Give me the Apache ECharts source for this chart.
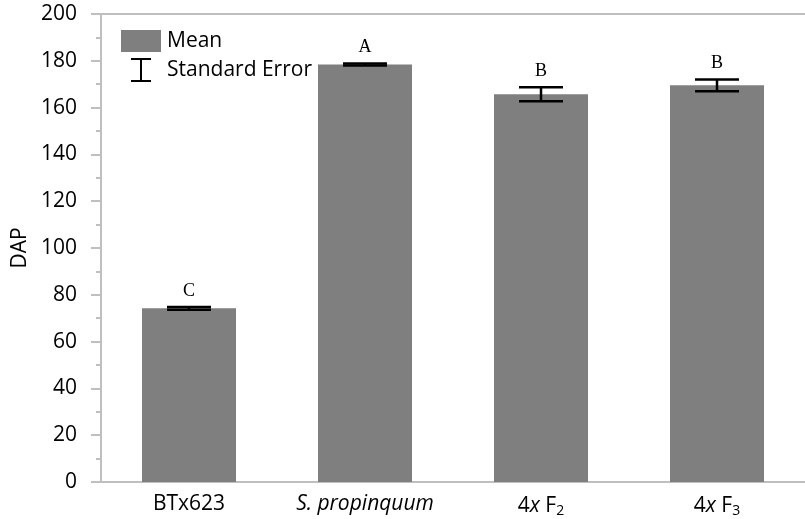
<!DOCTYPE html>
<html>
<head>
<meta charset="utf-8">
<script src="https://cdn.jsdelivr.net/npm/echarts@6/dist/echarts.min.js"></script>
<style>
  html, body { margin: 0; padding: 0; background: #fff; }
  #chart { width: 805px; height: 519px; }
</style>
</head>
<body>
<div id="chart"></div>
<script>
// Days after planting per genotype, with standard errors and significance groups
const categories = ['BTx623', 'S. propinquum', '4x F2', '4x F3'];
const meanDAP = [74.2, 178.4, 165.7, 169.5];
const stdError = [0.6, 0.4, 3.0, 2.5];
const groupLetters = ['C', 'A', 'B', 'B'];
const yTicks = [0, 20, 40, 60, 80, 100, 120, 140, 160, 180, 200];

const axisGrey = '#bfbfbf';
const barGrey = '#7f7f7f';
const sansFont = '"Open Sans", "Noto Sans", sans-serif';
const serifFont = '"Liberation Serif", "DejaVu Serif", serif';
const textSize = 21;

const chart = echarts.init(document.getElementById('chart'), null, { renderer: 'canvas' });

function categoryLabel(value) {
  if (value === 'S. propinquum') return '{it|S. propinquum}';
  if (value === '4x F2') return '{n|4}{it|x}{n| F}{sub|2}';
  if (value === '4x F3') return '{n|4}{it|x}{n| F}{sub|3}';
  return '{n|' + value + '}';
}

const errorData = meanDAP.map((m, i) => [i, m - stdError[i], m + stdError[i], groupLetters[i]]);

chart.setOption({
  animation: false,
  grid: { left: 101, right: 0, top: 14, bottom: 37, containLabel: false },
  xAxis: [{
    type: 'category',
    data: categories,
    axisLine: { lineStyle: { color: axisGrey, width: 2 } },
    axisTick: { show: false },
    axisLabel: {
      margin: 12,
      formatter: categoryLabel,
      rich: {
        n: { fontFamily: sansFont, fontSize: textSize, color: '#000' },
        it: { fontFamily: sansFont, fontSize: textSize, fontStyle: 'italic', color: '#000' },
        sub: { fontFamily: sansFont, fontSize: 14, color: '#000', verticalAlign: 'bottom', padding: [10, 0, 0, 0] }
      }
    }
  }, {
    type: 'category',
    position: 'top',
    data: categories,
    axisLine: { lineStyle: { color: axisGrey, width: 2 } },
    axisTick: { show: false },
    axisLabel: { show: false }
  }],
  yAxis: {
    type: 'value',
    min: yTicks[0],
    max: yTicks[yTicks.length - 1],
    interval: 20,
    name: 'DAP',
    nameLocation: 'middle',
    nameGap: 67,
    nameRotate: 90,
    nameTextStyle: { fontFamily: sansFont, fontSize: textSize, color: '#000' },
    axisLine: { show: true, lineStyle: { color: axisGrey, width: 2 } },
    axisTick: { show: true, inside: false, length: 10, lineStyle: { color: axisGrey, width: 2 } },
    minorTick: { show: true, splitNumber: 2, length: 5, lineStyle: { color: axisGrey, width: 2 } },
    splitLine: { show: false },
    axisLabel: { margin: 24, fontFamily: sansFont, fontSize: textSize, color: '#000' }
  },
  series: [{
    name: 'Mean',
    type: 'bar',
    data: meanDAP,
    barWidth: 94,
    itemStyle: { color: barGrey }
  }, {
    name: 'Standard Error',
    type: 'custom',
    data: errorData,
    z: 5,
    renderItem: function (params, api) {
      const x = api.value(0);
      const lo = api.coord([x, api.value(1)]);
      const hi = api.coord([x, api.value(2)]);
      const half = 22;
      const style = { stroke: '#000', lineWidth: 2.5 };
      return {
        type: 'group',
        children: [
          { type: 'line', shape: { x1: lo[0], y1: lo[1], x2: hi[0], y2: hi[1] }, style: style },
          { type: 'line', shape: { x1: hi[0] - half, y1: hi[1], x2: hi[0] + half, y2: hi[1] }, style: style },
          { type: 'line', shape: { x1: lo[0] - half, y1: lo[1], x2: lo[0] + half, y2: lo[1] }, style: style },
          { type: 'text', x: hi[0], y: hi[1] - 7,
            style: { text: api.value(3), font: '18px ' + serifFont, fill: '#000', align: 'center', verticalAlign: 'bottom' } }
        ]
      };
    }
  }],
  graphic: [
    // legend: mean swatch
    { type: 'rect', shape: { x: 121, y: 30, width: 40, height: 22 }, style: { fill: barGrey } },
    { type: 'text', x: 167, y: 41, style: { text: 'Mean', font: textSize + 'px ' + sansFont, fill: '#000', verticalAlign: 'middle' } },
    // legend: error bar glyph
    { type: 'line', shape: { x1: 131, y1: 59, x2: 151, y2: 59 }, style: { stroke: '#000', lineWidth: 2 } },
    { type: 'line', shape: { x1: 141, y1: 59, x2: 141, y2: 81 }, style: { stroke: '#000', lineWidth: 2 } },
    { type: 'line', shape: { x1: 131, y1: 81, x2: 151, y2: 81 }, style: { stroke: '#000', lineWidth: 2 } },
    { type: 'text', x: 167, y: 70, style: { text: 'Standard Error', font: textSize + 'px ' + sansFont, fill: '#000', verticalAlign: 'middle' } }
  ]
});
</script>
</body>
</html>
